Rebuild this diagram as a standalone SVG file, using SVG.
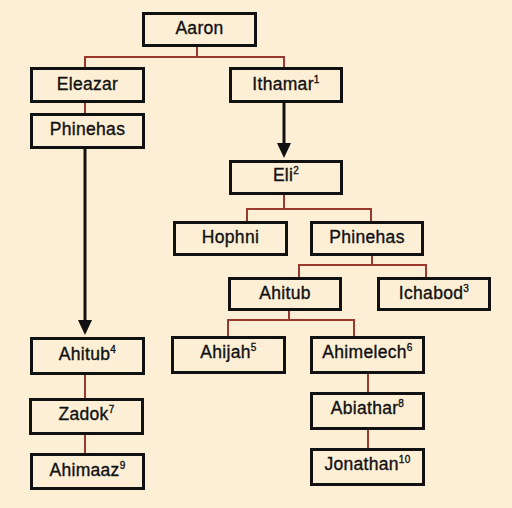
<svg xmlns="http://www.w3.org/2000/svg" width="512" height="508" viewBox="0 0 512 508">
<style>
.box{fill:#FDEFD6;stroke:#111;stroke-width:3}
.t{font-family:"Liberation Sans",Arial,sans-serif;font-size:17.5px;letter-spacing:0.3px;fill:#111;stroke:#111;stroke-width:0.35;text-anchor:middle}
.s{font-size:10px}
.red{fill:none;stroke:#9A3A2E;stroke-width:2}
.blk{fill:none;stroke:#111;stroke-width:3}
.ah{fill:#111}
</style>
<rect x="0" y="0" width="512" height="508" fill="#FDEFD6"/>
<g id="connectors">
<path class="red" d="M197,47V57M85,67V57H284V67"/>
<path class="red" d="M85,103V113"/>
<path class="red" d="M284,195V209M247,221V209H371V221"/>
<path class="red" d="M372,256V265M299,277V265H426V277"/>
<path class="red" d="M289,310V320M228,336V320H354V336"/>
<path class="red" d="M85,375V398M85,435V453"/>
<path class="red" d="M368,374V392M368,430V448"/>
<path class="blk" d="M85,149V322"/>
<polygon class="ah" points="78,320 92,320 85,335"/>
<path class="blk" d="M284,103V145"/>
<polygon class="ah" points="277,143 291,143 284,158"/>
</g>
<g id="aaron"><rect class="box" x="143.5" y="13.5" width="112" height="32"/><text class="t" x="199.5" y="34">Aaron</text></g>
<g id="eleazar"><rect class="box" x="31.5" y="68.5" width="112" height="33"/><text class="t" x="87.5" y="90">Eleazar</text></g>
<g id="ithamar"><rect class="box" x="230.5" y="68.5" width="111" height="33"/><text class="t" x="286" y="90">Ithamar<tspan class="s" dy="-7">1</tspan></text></g>
<g id="phinehas1"><rect class="box" x="31.5" y="114.5" width="112" height="33"/><text class="t" x="87.5" y="135">Phinehas</text></g>
<g id="eli"><rect class="box" x="230.5" y="161.5" width="111" height="32"/><text class="t" x="286" y="181">Eli<tspan class="s" dy="-7">2</tspan></text></g>
<g id="hophni"><rect class="box" x="174.5" y="222.5" width="112" height="32"/><text class="t" x="230.5" y="243">Hophni</text></g>
<g id="phinehas2"><rect class="box" x="311.5" y="222.5" width="111" height="32"/><text class="t" x="367" y="243">Phinehas</text></g>
<g id="ahitub1"><rect class="box" x="229.5" y="278.5" width="111" height="31"/><text class="t" x="285" y="299">Ahitub</text></g>
<g id="ichabod"><rect class="box" x="378.5" y="278.5" width="111" height="31"/><text class="t" x="434" y="299">Ichabod<tspan class="s" dy="-7">3</tspan></text></g>
<g id="ahitub2"><rect class="box" x="31.5" y="338.5" width="112" height="35"/><text class="t" x="87.5" y="360">Ahitub<tspan class="s" dy="-7">4</tspan></text></g>
<g id="ahijah"><rect class="box" x="172.5" y="337.5" width="112" height="35"/><text class="t" x="228.5" y="358">Ahijah<tspan class="s" dy="-7">5</tspan></text></g>
<g id="ahimelech"><rect class="box" x="311.5" y="337.5" width="112" height="35"/><text class="t" x="367.5" y="358">Ahimelech<tspan class="s" dy="-7">6</tspan></text></g>
<g id="zadok"><rect class="box" x="30.5" y="399.5" width="112" height="34"/><text class="t" x="86.5" y="420">Zadok<tspan class="s" dy="-7">7</tspan></text></g>
<g id="abiathar"><rect class="box" x="311.5" y="393.5" width="112" height="35"/><text class="t" x="367.5" y="414">Abiathar<tspan class="s" dy="-7">8</tspan></text></g>
<g id="ahimaaz"><rect class="box" x="31.5" y="454.5" width="112" height="34"/><text class="t" x="87.5" y="476">Ahimaaz<tspan class="s" dy="-7">9</tspan></text></g>
<g id="jonathan"><rect class="box" x="311.5" y="449.5" width="112" height="35"/><text class="t" x="367.5" y="470">Jonathan<tspan class="s" dy="-7">10</tspan></text></g>
</svg>
